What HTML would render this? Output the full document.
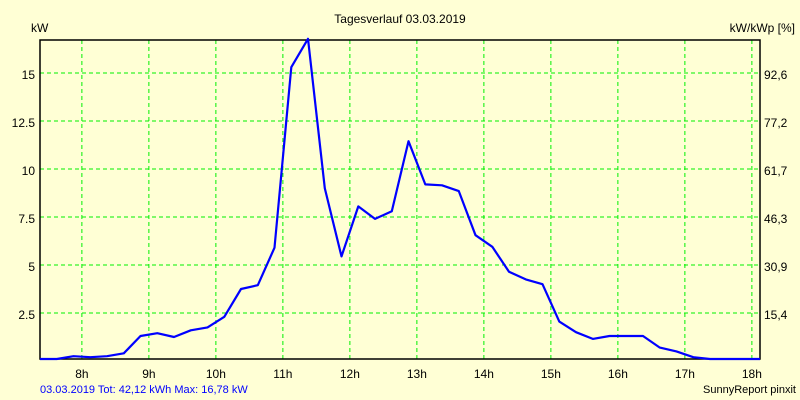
<!DOCTYPE html>
<html><head><meta charset="utf-8"><style>
body{margin:0;background:#ffffd5;}
svg{display:block;font-family:"Liberation Sans",sans-serif;}
</style></head><body>
<svg id="chart" width="800" height="400">
<rect width="800" height="400" fill="#ffffd5"/>
<text x="400" y="23" font-size="12" text-anchor="middle">Tagesverlauf 03.03.2019</text>
<text x="31" y="32" font-size="12">kW</text>
<text x="795" y="32" font-size="12" text-anchor="end">kW/kWp [%]</text>
<g id="grid"></g>
<g id="ticks"></g>
<rect x="40" y="40" width="720" height="319" fill="none" stroke="#000" stroke-width="1.5"/>
<path id="line" fill="none" stroke="#0000ff" stroke-width="2.2" stroke-linejoin="round"/>
<text x="40" y="393" font-size="11" fill="#0000ff">03.03.2019 Tot: 42,12 kWh Max: 16,78 kW</text>
<text x="796" y="393" font-size="11" text-anchor="end">SunnyReport pinxit</text>
</svg>
<script>
const hourTicks = [8,9,10,11,12,13,14,15,16,17,18];
const hourLabels = ["8h","9h","10h","11h","12h","13h","14h","15h","16h","17h","18h"];
const kwTicks = [2.5,5,7.5,10,12.5,15];
const kwLabels = ["2.5","5","7.5","10","12.5","15"];
const pctLabels = ["15,4","30,9","46,3","61,7","77,2","92,6"];
const startTime = 7.375;
const stepHours = 0.25;
const powerKw = [0,0.1,0.25,0.2,0.25,0.4,1.3,1.45,1.25,1.6,1.75,2.3,3.75,3.95,5.9,15.3,16.78,9.0,5.45,8.05,7.4,7.8,11.45,9.2,9.15,8.85,6.55,5.95,4.65,4.25,4.0,2.05,1.5,1.15,1.3,1.3,1.3,0.7,0.5,0.2,0.05,0,0,0];

const NS="http://www.w3.org/2000/svg";
const xS = t => 40 + (t - startTime) * 67;
const yS = v => 361 - v * 19.2;
const grid = document.getElementById('grid');
const ticks = document.getElementById('ticks');
function mk(tag, attrs, parent, txt){const e=document.createElementNS(NS,tag);for(const k in attrs)e.setAttribute(k,attrs[k]);if(txt!==undefined)e.textContent=txt;parent.appendChild(e);return e;}
hourTicks.forEach((h,i)=>{
  const x=xS(h);
  const g=mk('line',{x1:x,x2:x,y1:40,y2:359,stroke:'#00f000','stroke-dasharray':'4,3'},grid);
  
  
  const t=mk('text',{x:x,y:378,'font-size':12,'text-anchor':'middle'},ticks,hourLabels[i]);
  
  
});
kwTicks.forEach((v,i)=>{
  const y=yS(v);
  const g=mk('line',{x1:40,x2:760,y1:y,y2:y,stroke:'#00f000','stroke-dasharray':'4,3'},grid);
  
  
  const t=mk('text',{x:35,y:y+6,'font-size':12,'text-anchor':'end'},ticks,kwLabels[i]);
  
  
  const r=mk('text',{x:764,y:y+6,'font-size':12},ticks,pctLabels[i]);
  
  
});
let d='';
powerKw.forEach((v,i)=>{const x=Math.min(xS(startTime+i*stepHours),760);d+=(i?'L':'M')+x.toFixed(1)+','+Math.min(yS(v),359).toFixed(1);});
document.getElementById('line').setAttribute('d',d);
</script>
</body></html>
